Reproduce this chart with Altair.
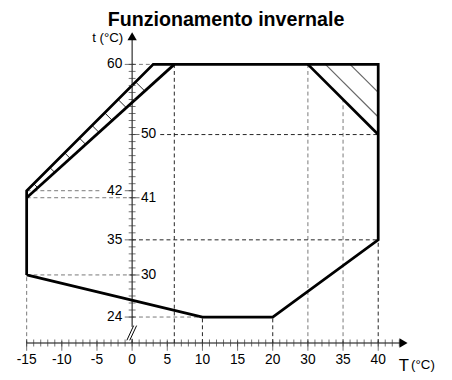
import altair as alt
import pandas as pd

FONT = "Liberation Sans"

# ---- data ----
# operating envelope (T = outdoor temp, t = water temp)
env_T = [-15, -15, 3, 40, 40, 20, 10, -15]
env_t = [30, 42, 60, 60, 35, 24, 24, 30]

# inner limit lines (thick)
lim_T1 = [-15, 30]
lim_t1 = [41, 60]
lim_T2 = [6, 40]
lim_t2 = [60, 50]

# thin hatch lines, top-right corner
hr_T1 = [32.5, 36]
hr_t1 = [60, 60]
hr_T2 = [40, 40]
hr_t2 = [52.5, 56]

# short hatch marks across the left band
hl_T1 = [-14, -11.7, -9.6, -7.5, -5.7, -3.9, -2, 0.5]
hl_t1 = [43, 45.3, 47.4, 49.5, 51.3, 53.1, 55, 57.5]
hl_T2 = [-13.42, -11.01, -8.8, -6.6, -4.71, -2.82, -0.83, 1.8]
hl_t2 = [42.42, 44.61, 46.6, 48.6, 50.31, 52.02, 53.83, 56.2]

AX_T = 20.3   # t value where the T axis sits
TOP_T = 64.0  # top of t axis (arrow)
END_T = 43.6  # right end of T axis (arrow)

# dashed guides: dark ones
gd_T1 = [6, 10, 20, 40, 4.0, 0]
gd_t1 = [AX_T, AX_T, AX_T, AX_T, 50, 35]
gd_T2 = [6, 10, 20, 40, 40, 40]
gd_t2 = [60, 24, 24, 35, 50, 35]
# dashed guides: grey ones
gg_T1 = [-15, 30, 35, 0, -15, -15, -15, 0]
gg_t1 = [AX_T, AX_T, AX_T, 60, 42, 41, 30, 24]
gg_T2 = [-15, 30, 35, 3, -4.3, 0, 0, 10]
gg_t2 = [30, 60, 55, 60, 42, 41, 30, 24]

# tick labels
x_labels = [-15, -10, -5, 0, 5, 10, 15, 20, 30, 35, 40]
y_left = [60, 42, 35, 24]
y_right = [50, 41, 30]
x_minor = list(range(-15, 21)) + [22, 24, 26, 28] + list(range(30, 44))
y_minor = list(range(24, 61))

# axis break slashes
br_T1 = [-0.75, -0.34]
br_t1 = [20.68, 20.68]
br_T2 = [0.22, 0.64]
br_t2 = [22.78, 22.78]

# ---- scales (x axis of the original is not uniform between 20 and 30) ----
xs = alt.Scale(domain=[-15, 20, 30, 40], range=[19, 269.6, 305.4, 377], nice=False, zero=False)
ys = alt.Scale(domain=[24, 60], range=[311.3, 54], nice=False, zero=False)


def X(f):
    return alt.X(f, type="quantitative", scale=xs, axis=None)


def Y(f):
    return alt.Y(f, type="quantitative", scale=ys, axis=None)


def segs(T1, t1, T2, t2, **mk):
    df = pd.DataFrame({"T1": T1, "t1": t1, "T2": T2, "t2": t2})
    return alt.Chart(df).mark_rule(**mk).encode(
        x=X("T1"), y=Y("t1"), x2="T2", y2="t2"
    )


dark_guides = segs(gd_T1, gd_t1, gd_T2, gd_t2, color="#222", strokeWidth=1, strokeDash=[4, 3])
grey_guides = segs(gg_T1, gg_t1, gg_T2, gg_t2, color="#777", strokeWidth=1, strokeDash=[4, 3])

env_df = pd.DataFrame({"T": env_T, "t": env_t, "i": list(range(len(env_T)))})
envelope = alt.Chart(env_df).mark_line(color="black", strokeWidth=2.8, strokeJoin="miter").encode(
    x=X("T"), y=Y("t"), order="i:Q"
)
limits = segs(lim_T1, lim_t1, lim_T2, lim_t2, color="black", strokeWidth=2.8)
hatch_r = segs(hr_T1, hr_t1, hr_T2, hr_t2, color="#666", strokeWidth=1.2)
hatch_l = segs(hl_T1, hl_t1, hl_T2, hl_t2, color="#222", strokeWidth=1)

# axes
x_axis = segs([-15], [AX_T], [END_T], [AX_T], color="black", strokeWidth=1)
y_axis = segs([0, 0], [AX_T, 22.6], [0, 0], [20.9, TOP_T], color="black", strokeWidth=1)
breaks = segs(br_T1, br_t1, br_T2, br_t2, color="black", strokeWidth=1)

arrow_x = alt.Chart(pd.DataFrame({"T": [END_T], "t": [AX_T]})).mark_point(
    shape="triangle-right", filled=True, color="black", size=90, opacity=1
).encode(x=X("T"), y=Y("t"))
arrow_y = alt.Chart(pd.DataFrame({"T": [0], "t": [TOP_T]})).mark_point(
    shape="triangle-up", filled=True, color="black", size=90, opacity=1
).encode(x=X("T"), y=Y("t"))

xminor = alt.Chart(pd.DataFrame({"T": x_minor, "t": AX_T})).mark_tick(
    orient="vertical", size=7, thickness=1, color="#333"
).encode(x=X("T"), y=Y("t"))
xmajor = alt.Chart(pd.DataFrame({"T": x_labels, "t": AX_T})).mark_tick(
    orient="vertical", size=10, thickness=1, color="#333", yOffset=3
).encode(x=X("T"), y=Y("t"))
yminor = alt.Chart(pd.DataFrame({"T": 0, "t": y_minor})).mark_tick(
    orient="horizontal", size=7, thickness=1, color="#333"
).encode(x=X("T"), y=Y("t"))
ymajor_l = alt.Chart(pd.DataFrame({"T": 0, "t": y_left})).mark_tick(
    orient="horizontal", size=9, thickness=1, color="#333", xOffset=-3
).encode(x=X("T"), y=Y("t"))
ymajor_r = alt.Chart(pd.DataFrame({"T": 0, "t": y_right})).mark_tick(
    orient="horizontal", size=9, thickness=1, color="#333", xOffset=3
).encode(x=X("T"), y=Y("t"))

xlab = alt.Chart(pd.DataFrame({"T": x_labels, "t": AX_T, "s": [str(v) for v in x_labels]})).mark_text(
    align="center", baseline="alphabetic", dy=21, fontSize=14, font=FONT, color="black"
).encode(x=X("T"), y=Y("t"), text="s:N")
ylab_l = alt.Chart(pd.DataFrame({"T": 0, "t": y_left, "s": [str(v) for v in y_left]})).mark_text(
    align="right", baseline="middle", dx=-10, fontSize=14, font=FONT, color="black"
).encode(x=X("T"), y=Y("t"), text="s:N")
ylab_r = alt.Chart(pd.DataFrame({"T": 0, "t": y_right, "s": [str(v) for v in y_right]})).mark_text(
    align="left", baseline="middle", dx=9, fontSize=14, font=FONT, color="black"
).encode(x=X("T"), y=Y("t"), text="s:N")

ytitle = alt.Chart(pd.DataFrame({"T": [0], "t": [60], "s": ["t (°C)"]})).mark_text(
    align="right", baseline="alphabetic", dx=-9, dy=-23, fontSize=13.5, font=FONT, color="black"
).encode(x=X("T"), y=Y("t"), text="s:N")
xtitle_T = alt.Chart(pd.DataFrame({"T": [40], "t": [AX_T], "s": ["T"]})).mark_text(
    align="left", baseline="alphabetic", dx=21, dy=28, fontSize=17, font=FONT, color="black"
).encode(x=X("T"), y=Y("t"), text="s:N")
xtitle_u = alt.Chart(pd.DataFrame({"T": [40], "t": [AX_T], "s": ["(°C)"]})).mark_text(
    align="left", baseline="alphabetic", dx=33.5, dy=26.5, fontSize=13.5, font=FONT, color="black"
).encode(x=X("T"), y=Y("t"), text="s:N")

title = alt.Chart(pd.DataFrame({"s": ["Funzionamento invernale"]})).mark_text(
    align="center", baseline="alphabetic", fontSize=20, fontWeight="bold", font=FONT, color="black"
).encode(x=alt.value(222), y=alt.value(15), text="s:N")

chart = alt.layer(
    grey_guides, dark_guides, hatch_r, hatch_l, limits, envelope,
    x_axis, y_axis, breaks, xminor, xmajor, yminor, ymajor_l, ymajor_r,
    arrow_x, arrow_y, xlab, ylab_l, ylab_r, ytitle, xtitle_T, xtitle_u, title
).properties(
    width=444, height=372,
    autosize=alt.AutoSizeParams(type="none"),
    padding=0,
    background="white",
).configure_view(stroke=None)

chart.save("out.html", embed_options={"renderer": "svg", "actions": False})
